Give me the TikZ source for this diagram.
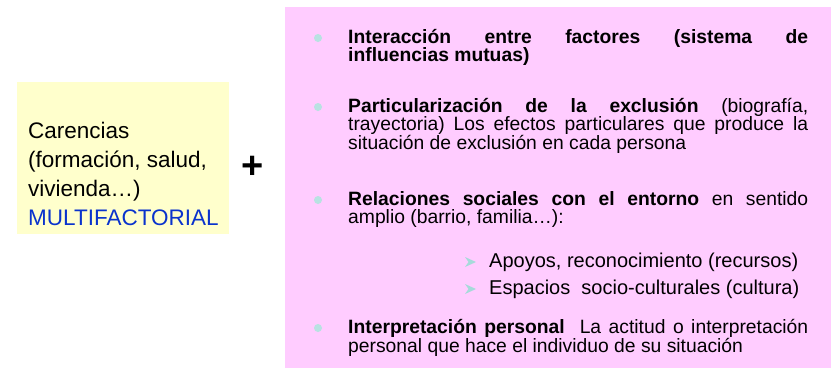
\documentclass[tikz,border=0pt]{standalone}
\usepackage{fontspec}
\setmainfont{Liberation Sans}
\definecolor{yellowbg}{HTML}{FFFFCC}
\definecolor{pinkbg}{HTML}{FFCCFF}
\definecolor{bulletc}{HTML}{B8E2E2}
\definecolor{arrowc}{HTML}{A6DADA}
\definecolor{multiblue}{HTML}{0A33CC}
\tikzset{
  panel/.style={anchor=north west, inner sep=0pt, outer sep=0pt},
  natspace/.style={execute at begin node={\spaceskip=0pt\xspaceskip=0pt}},
  bodytext/.style={anchor=base west, inner sep=0pt, text width=460pt, align=left, natspace,
    font=\fontsize{19.3}{18}\selectfont},
  subtext/.style={anchor=base west, inner sep=0pt, natspace, font=\fontsize{20}{18}\selectfont},
  lefttext/.style={anchor=base west, inner sep=0pt, text width=200pt, align=left, natspace,
    font=\fontsize{22.5}{29}\selectfont},
  dotbullet/.style={circle, fill=bulletc, minimum size=8pt, inner sep=0pt},
}
\newcommand{\jline}[1]{\makebox[460pt][s]{\spaceskip=0pt\xspaceskip=0pt #1}}
\begin{document}
\begin{tikzpicture}[x=1pt,y=-1pt]
\useasboundingbox (0,0) rectangle (831,383);
% panels
\node[panel, fill=yellowbg, minimum width=212pt, minimum height=152pt] (ybox) at (17,82) {};
\node[panel, fill=pinkbg, minimum width=546pt, minimum height=361pt] (pbox) at (285,7) {};
% left text
\node[lefttext] (carencias) at (28,138) {Carencias\\(formación, salud,\\vivienda…)\\\textcolor{multiblue}{MULTIFACTORIAL}};
% plus
\node[inner sep=0pt, font=\fontsize{38}{38}\selectfont\bfseries] (plus) at (253,167) {+};
% bullets
\node[dotbullet] (b1) at (318,38) {};
\node[dotbullet] (b2) at (318,107) {};
\node[dotbullet] (b3) at (318,200) {};
\node[dotbullet] (b4) at (318,328) {};
% paragraphs
\node[bodytext] (p1) at (348,43) {\jline{\bfseries Interacción entre factores (sistema de}\\\textbf{influencias mutuas)}};
\node[bodytext] (p2) at (348,112) {\jline{\textbf{Particularización de la exclusión} (biografía,}\\\jline{trayectoria) Los efectos particulares que produce la}\\situación de exclusión en cada persona};
\node[bodytext] (p3) at (348,205) {\jline{\textbf{Relaciones sociales con el entorno} en sentido}\\amplio (barrio, familia…):};
\node[bodytext] (p4) at (348,333) {\jline{\textbf{Interpretación personal}\ \ La actitud o interpretación}\\personal que hace el individuo de su situación};
% sub bullets
\fill[arrowc] (465,257) -- (476,262) -- (465,267) -- (468.5,262) -- cycle;
\fill[arrowc] (465,284) -- (476,289) -- (465,294) -- (468.5,289) -- cycle;
\node[subtext] (s1) at (489,267) {Apoyos, reconocimiento (recursos)};
\node[subtext] (s2) at (489,294) {Espacios\ \ socio-culturales (cultura)};
\end{tikzpicture}
\end{document}
